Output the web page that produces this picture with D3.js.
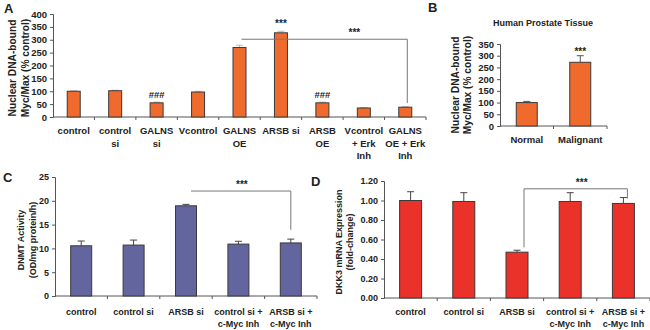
<!DOCTYPE html>
<html lang="en">
<head>
<meta charset="UTF-8">
<title>Myc/Max, DNMT and DKK3 panels</title>
<script src="https://d3js.org/d3.v7.min.js"></script>
<style>
  body { margin: 0; background: #fff; }
  text { font-family: Arial, "Liberation Sans", sans-serif; font-weight: bold; fill: #222; }
</style>
</head>
<body>
<script>
// panel A
var catsA = [["control"], ["control", "si"], ["GALNS", "si"], ["Vcontrol"], ["GALNS", "OE"],
             ["ARSB si"], ["ARSB", "OE"], ["Vcontrol", "+ Erk", "Inh"], ["GALNS", "OE + Erk", "Inh"]];
var valsA = [100, 102, 55, 97, 270, 327, 55, 35, 38];
var errsA = [2, 2, 3, 3, 9, 6, 3, 2, 2];
var ticksA = [0, 50, 100, 150, 200, 250, 300, 350, 400];
// panel B
var catsB = ["Normal", "Malignant"];
var valsB = [100, 272];
var errsB = [5, 28];
var ticksB = [0, 50, 100, 150, 200, 250, 300, 350];
// panel C
var catsC = [["control"], ["control si"], ["ARSB si"], ["control si +", "c-Myc Inh"], ["ARSB si +", "c-Myc Inh"]];
var valsC = [10.55, 10.7, 18.95, 10.9, 11.15];
var errsC = [1.0, 1.05, 0.3, 0.6, 0.8];
var ticksC = [0, 5, 10, 15, 20, 25];
// panel D
var catsD = catsC;
var valsD = [1.00, 0.99, 0.47, 0.99, 0.97];
var errsD = [0.09, 0.09, 0.02, 0.09, 0.06];
var ticksD = [0, 0.2, 0.4, 0.6, 0.8, 1.0, 1.2];

var W = 650, H = 330;
var svg = d3.select("body").append("svg").attr("width", W).attr("height", H);

function panel(o) {
  var g = svg.append("g");
  var x = d3.scaleBand().domain(d3.range(o.vals.length)).range([o.x0, o.x1]);
  var y = d3.scaleLinear().domain([0, o.ymax]).range([o.y0, o.y1]);
  var bw = o.barW;

  // y axis
  var yAxis = d3.axisLeft(y).tickValues(o.ticks).tickSize(3).tickPadding(3).tickFormat(o.fmt);
  var ya = g.append("g").attr("transform", "translate(" + o.x0 + ",0)").call(yAxis);
  ya.selectAll("path, line").attr("stroke", "#555");
  ya.selectAll("text").style("font-size", o.tickFs + "px").attr("fill", "#222");

  // x axis line with separators
  g.append("line").attr("x1", o.x0).attr("x2", o.x1).attr("y1", y(0)).attr("y2", y(0)).attr("stroke", "#555");
  g.selectAll(".sep").data(d3.range(1, o.vals.length + 1)).enter().append("line")
    .attr("x1", function (i) { return o.x0 + i * x.bandwidth(); })
    .attr("x2", function (i) { return o.x0 + i * x.bandwidth(); })
    .attr("y1", y(0)).attr("y2", y(0) + 3).attr("stroke", "#555");

  // error bars
  g.selectAll(".err").data(o.vals).enter().append("path")
    .attr("d", function (d, i) {
      var cx = x(i) + x.bandwidth() / 2, t = y(d + o.errs[i]);
      return "M" + cx + "," + y(d) + "V" + t + "M" + (cx - 3.5) + "," + t + "H" + (cx + 3.5);
    })
    .attr("stroke", o.errColor).attr("fill", "none");

  // bars
  g.selectAll(".bar").data(o.vals).enter().append("rect")
    .attr("x", function (d, i) { return x(i) + (x.bandwidth() - bw) / 2; })
    .attr("y", function (d) { return y(d); })
    .attr("width", bw)
    .attr("height", function (d) { return y(0) - y(d); })
    .attr("fill", o.color).attr("stroke", "#3a3a3a").attr("stroke-width", 1);

  // category labels
  g.selectAll(".lab").data(o.cats).enter().append("text")
    .attr("text-anchor", "middle")
    .style("font-size", o.labFs + "px")
    .each(function (d, i) {
      var t = d3.select(this);
      var lines = Array.isArray(d) ? d : [d];
      lines.forEach(function (s, k) {
        t.append("tspan").attr("x", x(i) + x.bandwidth() / 2)
          .attr("y", y(0) + o.labDy + k * o.labLh).text(s);
      });
    });

  // y label
  var yl = g.append("text").attr("text-anchor", "middle").style("font-size", o.ylFs + "px")
    .attr("transform", "translate(" + o.ylX + "," + o.ylY + ") rotate(-90)");
  o.ylab.forEach(function (s, k) {
    yl.append("tspan").attr("x", 0).attr("y", k * o.ylLh).text(s);
  });

  g.append("text").attr("x", o.letter[1]).attr("y", o.letter[2]).style("font-size", "13px").text(o.letter[0]);
  return { g: g, x: x, y: y };
}

var A = panel({
  vals: valsA, errs: errsA, cats: catsA, ticks: ticksA, ymax: 400,
  x0: 53, x1: 426, y0: 117, y1: 14, barW: 13, color: "#ef6a2c", errColor: "#bbb",
  fmt: d3.format("d"), tickFs: 9.5, labFs: 9.5, labDy: 17, labLh: 12.5,
  ylab: ["Nuclear DNA-bound", "Myc/Max (% control)"], ylX: 16, ylY: 68, ylFs: 10.2, ylLh: 12.5,
  letter: ["A", 4, 13]
});
A.g.selectAll(".hash").data([2, 6]).enter().append("text")
  .attr("x", function (i) { return A.x(i) + A.x.bandwidth() / 2; })
  .attr("y", function (i) { return A.y(valsA[i]) - 5; })
  .attr("text-anchor", "middle").style("font-size", "9.5px").attr("fill", "#555").text("###");
A.g.append("text").attr("x", A.x(5) + A.x.bandwidth() / 2).attr("y", A.y(valsA[5] + errsA[5]) - 4)
  .attr("text-anchor", "middle").style("font-size", "10px").text("***");
(function () {
  var xl = A.x(4) + A.x.bandwidth() / 2 + 2, xr = A.x(8) + A.x.bandwidth() / 2 + 2;
  var yb = A.y(302);
  A.g.append("path").attr("d", "M" + xl + "," + yb + "H" + xr + "V" + A.y(54))
    .attr("fill", "none").attr("stroke", "#777");
  A.g.append("text").attr("x", (xl + xr) / 2 + 30).attr("y", yb - 3)
    .attr("text-anchor", "middle").style("font-size", "10px").text("***");
})();

var B = panel({
  vals: valsB, errs: errsB, cats: catsB, ticks: ticksB, ymax: 350,
  x0: 500, x1: 607, y0: 126, y1: 44, barW: 21, color: "#ef6a2c", errColor: "#555",
  fmt: d3.format("d"), tickFs: 9.5, labFs: 9.5, labDy: 17, labLh: 12,
  ylab: ["Nuclear DNA-bound", "Myc/Max (% control)"], ylX: 459, ylY: 85, ylFs: 10.2, ylLh: 12,
  letter: ["B", 428, 12]
});
B.g.append("text").attr("x", 543).attr("y", 26).attr("text-anchor", "middle")
  .style("font-size", "9px").text("Human Prostate Tissue");
B.g.append("text").attr("x", B.x(1) + B.x.bandwidth() / 2).attr("y", B.y(valsB[1] + errsB[1]) - 1)
  .attr("text-anchor", "middle").style("font-size", "10px").text("***");

var C = panel({
  vals: valsC, errs: errsC, cats: catsC, ticks: ticksC, ymax: 25,
  x0: 55, x1: 317, y0: 296, y1: 177, barW: 21, color: "#63659f", errColor: "#444",
  fmt: d3.format("d"), tickFs: 9, labFs: 9, labDy: 19, labLh: 12,
  ylab: ["DNMT Activity", "(OD/mg protein/h)"], ylX: 24, ylY: 240, ylFs: 9, ylLh: 12,
  letter: ["C", 3, 182]
});
(function () {
  var xl = C.x(2) + C.x.bandwidth() / 2 + 5, xr = C.x(4) + C.x.bandwidth() / 2;
  var yb = C.y(22.05);
  C.g.append("path").attr("d", "M" + xl + "," + yb + "H" + xr + "V" + C.y(13.9))
    .attr("fill", "none").attr("stroke", "#777");
  C.g.append("text").attr("x", (xl + xr) / 2 + 1).attr("y", yb - 3)
    .attr("text-anchor", "middle").style("font-size", "10px").text("***");
})();

var D = panel({
  vals: valsD, errs: errsD, cats: catsD, ticks: ticksD, ymax: 1.2,
  x0: 384, x1: 650, y0: 298, y1: 181, barW: 22, color: "#ea312a", errColor: "#444",
  fmt: d3.format(".2f"), tickFs: 9, labFs: 9, labDy: 17, labLh: 12,
  ylab: ["DKK3 mRNA Expression", "(fold-change)"], ylX: 342, ylY: 242, ylFs: 9, ylLh: 11,
  letter: ["D", 311, 186]
});
(function () {
  var xl = D.x(2) + D.x.bandwidth() / 2 + 7, xr = D.x(4) + D.x.bandwidth() / 2 + 4;
  var yb = D.y(1.12);
  D.g.append("path").attr("d", "M" + xl + "," + D.y(0.52) + "V" + yb + "H" + xr + "V" + D.y(1.02))
    .attr("fill", "none").attr("stroke", "#777");
  D.g.append("text").attr("x", (xl + xr) / 2 + 6).attr("y", yb - 3)
    .attr("text-anchor", "middle").style("font-size", "10px").text("***");
})();
</script>
</body>
</html>
